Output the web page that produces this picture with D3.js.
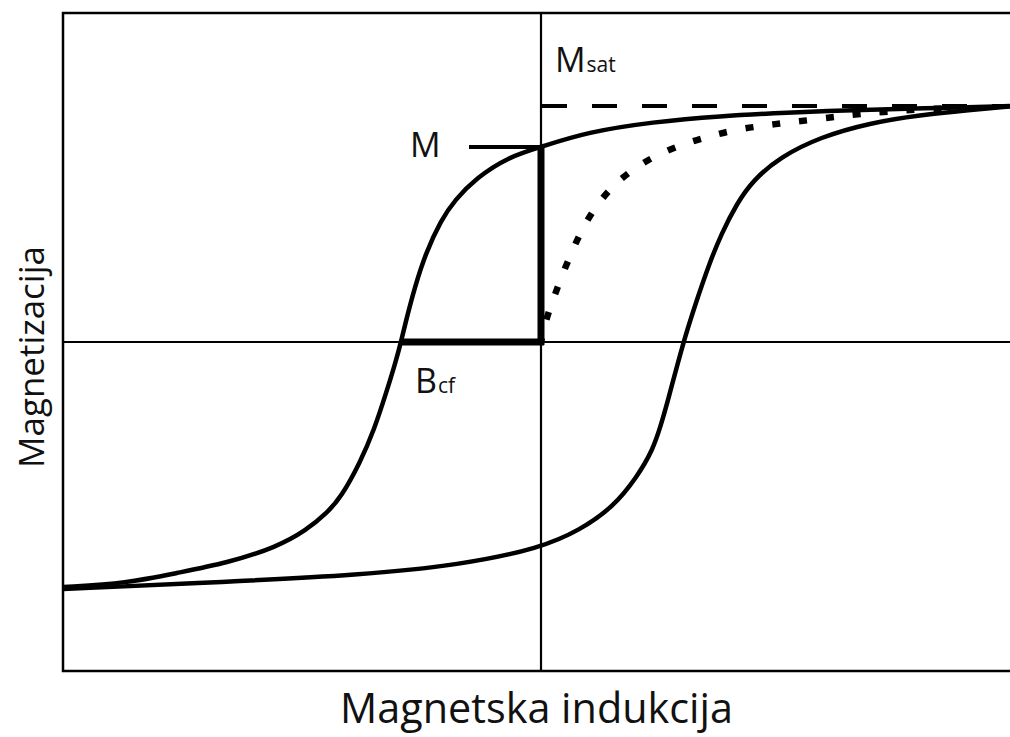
<!DOCTYPE html>
<html>
<head>
<meta charset="utf-8">
<script src="https://cdn.jsdelivr.net/npm/d3@7"></script>
<style>
  html, body { margin: 0; padding: 0; background: #fff; overflow: hidden; }
  svg { display: block; }
  text { font-family: "Open Sans", "DejaVu Sans", sans-serif; fill: #111; }
</style>
</head>
<body>
<div id="canvas"></div>
<script>
// hysteresis loop, values (B and M scaled to -1..1)
var descB = [-1.000,-0.866,-0.762,-0.657,-0.552,-0.490,-0.448,-0.418,-0.379,-0.349,-0.322,-0.303,-0.293,-0.282,-0.264,-0.241,-0.209,-0.180,-0.136,-0.069,0,0.096,0.234,0.374,0.515,0.653,0.793,0.981];
var descM = [-0.745,-0.733,-0.702,-0.672,-0.623,-0.571,-0.520,-0.471,-0.368,-0.267,-0.146,-0.055,0,0.067,0.167,0.271,0.371,0.432,0.498,0.562,0.593,0.638,0.669,0.687,0.697,0.705,0.710,0.717];

var ascB = [-1.000,-0.657,-0.379,-0.169,0,0.082,0.151,0.201,0.234,0.251,0.266,0.297,0.326,0.351,0.377,0.410,0.444,0.500,0.584,0.688,0.793,0.897,0.981];
var ascM = [-0.751,-0.729,-0.708,-0.678,-0.626,-0.571,-0.502,-0.410,-0.328,-0.252,-0.176,-0.003,0.128,0.234,0.328,0.422,0.492,0.562,0.623,0.666,0.690,0.705,0.716];

// initial magnetization curve (dotted)
var initB = [0,0.012,0.029,0.047,0.068,0.088,0.119,0.158,0.211,0.261,0.313,0.362,0.412,0.464,0.514,0.566,0.619,0.667,0.723,0.793,0.877];
var initM = [0,0.077,0.143,0.214,0.285,0.350,0.422,0.487,0.544,0.581,0.609,0.629,0.647,0.657,0.667,0.675,0.685,0.693,0.700,0.708,0.712];

var Msat = 0.717,   // saturation
    Mval = 0.593,   // remanence point M
    Bcf = -0.293;   // coercive field

var W = 1010, H = 737;
var svg = d3.select('#canvas').append('svg')
    .attr('width', W)
    .attr('height', H)
    .style('overflow', 'hidden');

var x = d3.scaleLinear().domain([-1, 1]).range([63, 1019]);
var y = d3.scaleLinear().domain([-1, 1]).range([671, 13]);

function zip(a, b){ return a.map(function(d, i){ return [d, b[i]]; }); }

var line = d3.line()
    .x(function(d){ return x(d[0]); })
    .y(function(d){ return y(d[1]); })
    .curve(d3.curveBasis);

//frame: top, left, bottom (right side is off the picture)
svg.append('path')
    .attr('d', 'M' + W + ',' + y(1) + 'H' + x(-1) + 'V' + y(-1) + 'H' + W)
    .attr('fill', 'none').attr('stroke', '#000').attr('stroke-width', 2.5);

//axes through zero
svg.append('line')
    .attr('x1', x(-1)).attr('x2', W)
    .attr('y1', y(0)).attr('y2', y(0))
    .attr('stroke', '#000').attr('stroke-width', 2.2);
svg.append('line')
    .attr('x1', x(0)).attr('x2', x(0))
    .attr('y1', y(1)).attr('y2', y(-1))
    .attr('stroke', '#000').attr('stroke-width', 2.2);

//saturation dashed line
svg.append('line')
    .attr('x1', x(0) + 1).attr('x2', W)
    .attr('y1', y(Msat)).attr('y2', y(Msat))
    .attr('stroke', '#000').attr('stroke-width', 4)
    .attr('stroke-dasharray', '25 25');

//loop branches
svg.append('path')
    .attr('d', line(zip(descB, descM)))
    .attr('fill', 'none').attr('stroke', '#000').attr('stroke-width', 4.5);
svg.append('path')
    .attr('d', line(zip(ascB, ascM)))
    .attr('fill', 'none').attr('stroke', '#000').attr('stroke-width', 4.5);

//dotted first magnetization
svg.append('path')
    .attr('d', line(zip(initB, initM)))
    .attr('fill', 'none').attr('stroke', '#000').attr('stroke-width', 6.5)
    .attr('stroke-dasharray', '8 19')
    .attr('stroke-dashoffset', 4);

//thick remanence / coercivity bars
svg.append('line')
    .attr('x1', x(0)).attr('x2', x(0))
    .attr('y1', y(Mval)).attr('y2', y(0) + 3)
    .attr('stroke', '#000').attr('stroke-width', 7);
svg.append('line')
    .attr('x1', x(Bcf)).attr('x2', x(0) + 3)
    .attr('y1', y(0)).attr('y2', y(0))
    .attr('stroke', '#000').attr('stroke-width', 7);

//M tick
svg.append('line')
    .attr('x1', x(0) - 72).attr('x2', x(0))
    .attr('y1', y(Mval)).attr('y2', y(Mval))
    .attr('stroke', '#000').attr('stroke-width', 4);

//labels
function label(px, py, main, sub){
    var t = svg.append('text').attr('x', px).attr('y', py);
    t.append('tspan').attr('font-size', 34).text(main);
    if (sub) t.append('tspan').attr('font-size', 21).attr('dx', 1).text(sub);
    return t;
}
label(x(0) + 14, y(Msat) - 34, 'M', 'sat');
label(x(0) - 131, y(Mval) + 10, 'M');
label(x(Bcf) + 14, y(0) + 51, 'B', 'cf');

//axis titles, sized to the widths seen in the picture
function fit(t, target){
    var fs = 40;
    t.attr('font-size', fs);
    var len = t.node().getComputedTextLength();
    t.attr('font-size', fs * target / len);
}
var xt = svg.append('text')
    .attr('x', 536.5).attr('y', 723)
    .attr('text-anchor', 'middle')
    .text('Magnetska indukcija');
fit(xt, 393);

var yt = svg.append('text')
    .attr('transform', 'translate(44,357) rotate(-90)')
    .attr('text-anchor', 'middle')
    .text('Magnetizacija');
fit(yt, 222);
</script>
</body>
</html>
